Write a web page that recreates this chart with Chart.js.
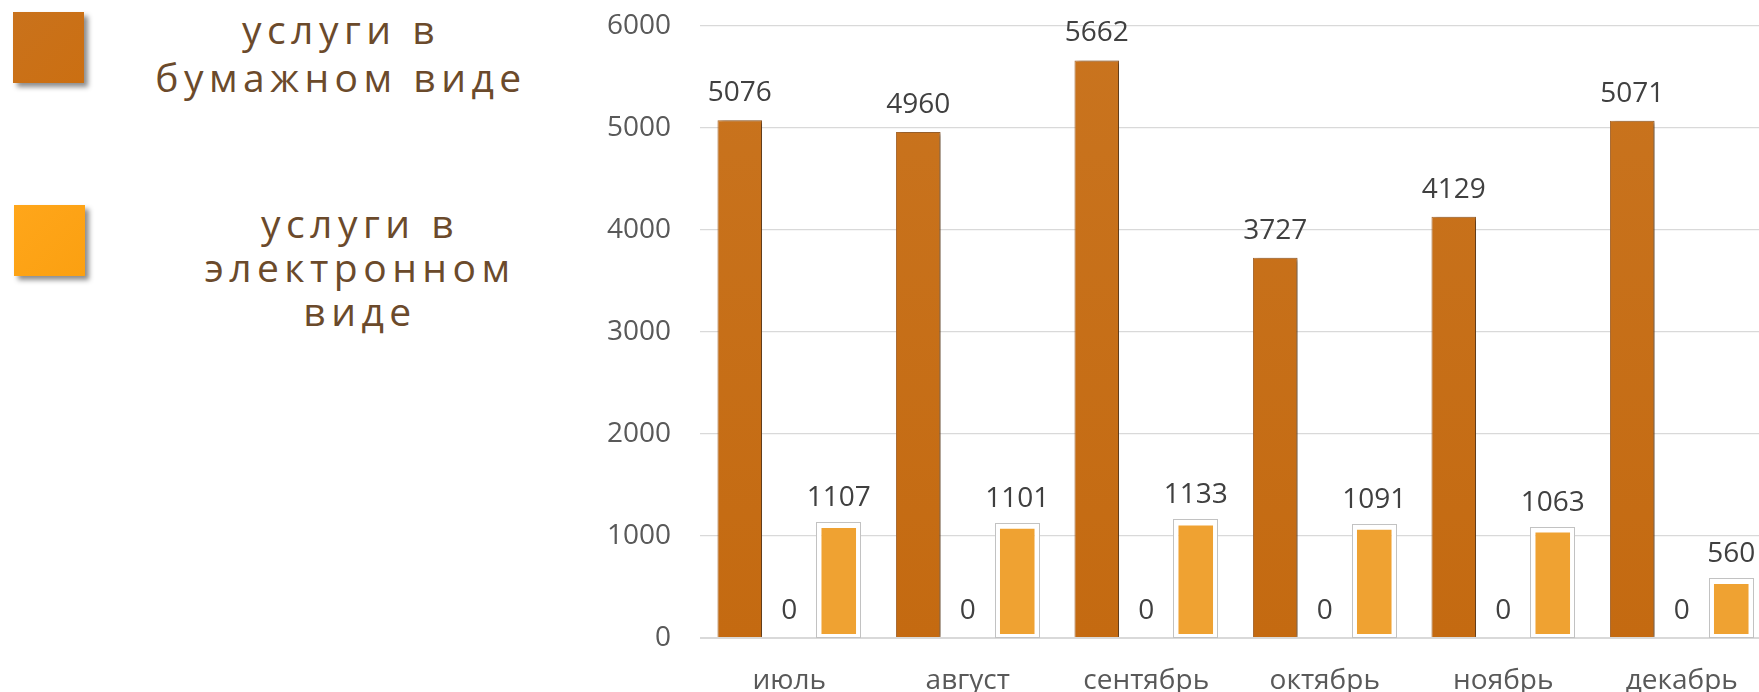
<!DOCTYPE html>
<html lang="ru">
<head>
    <meta charset="UTF-8">
    <title>Услуги в бумажном и электронном виде</title>
    <script src="https://cdn.jsdelivr.net/npm/chart.js"></script>
    <style>
        html, body {
            margin: 0;
            padding: 0;
            width: 1759px;
            height: 692px;
            overflow: hidden;
            background: #ffffff;
            font-family: "Open Sans", sans-serif;
        }
        .legend-box {
            position: absolute;
            width: 71px;
            height: 71px;
            box-shadow: 4px 4px 5px rgba(0,0,0,0.45);
        }
        .legend-text {
            position: absolute;
            text-align: center;
            color: #6b4a2b;
            font-size: 39px;
            letter-spacing: 5.5px;
            white-space: nowrap;
        }
        #chart-wrap {
            position: absolute;
            left: 560px;
            top: 0;
        }
    </style>
</head>
<body>
    <div class="legend-box" style="left:13px; top:12px; background:linear-gradient(135deg,#c9721c,#cb6f12);"></div>
    <div class="legend-text" id="legend-paper" style="left:141px; top:5px; width:400px; line-height:48px;"></div>
    <div class="legend-box" style="left:14px; top:205px; background:linear-gradient(135deg,#ffa61a,#fba011);"></div>
    <div class="legend-text" id="legend-electronic" style="left:160px; top:201px; width:400px; line-height:44px;"></div>

    <div id="chart-wrap">
        <canvas id="chart" width="1211" height="692" style="width:1211px; height:692px;"></canvas>
    </div>

    <script>
        const months = ['июль', 'август', 'сентябрь', 'октябрь', 'ноябрь', 'декабрь'];
        const paperServices = [5076, 4960, 5662, 3727, 4129, 5071];
        const zeroServices = [0, 0, 0, 0, 0, 0];
        const electronicServices = [1107, 1101, 1133, 1091, 1063, 560];
        const legendPaper = ['услуги в', 'бумажном виде'];
        const legendElectronic = ['услуги в', 'электронном', 'виде'];

        document.getElementById('legend-paper').innerHTML = legendPaper.join('<br>');
        document.getElementById('legend-electronic').innerHTML = legendElectronic.join('<br>');

        Chart.defaults.font.family = '"Open Sans", sans-serif';

        function paperFill(context) {
            const area = context.chart.chartArea;
            if (!area) return '#c7701a';
            const g = context.chart.ctx.createLinearGradient(0, area.top, 0, area.bottom);
            g.addColorStop(0, '#c9741f');
            g.addColorStop(1, '#c46a11');
            return g;
        }

        const barDecor = {
            id: 'barDecor',
            beforeDatasetDraw(chart, args) {
                if (args.index === 0) {
                    const c = chart.ctx;
                    c.save();
                    c.shadowColor = 'rgba(0,0,0,0.45)';
                    c.shadowOffsetX = 4;
                    c.shadowOffsetY = 1;
                    c.shadowBlur = 4;
                }
            },
            afterDatasetDraw(chart, args) {
                if (args.index === 0) chart.ctx.restore();
            },
            afterDatasetsDraw(chart) {
                const c = chart.ctx;
                // thin grey frame around the electronic bars
                c.save();
                c.strokeStyle = '#c2c2c2';
                c.lineWidth = 1;
                chart.getDatasetMeta(2).data.forEach(bar => {
                    const p = bar.getProps(['x', 'y', 'base', 'width'], true);
                    const left = Math.round(p.x - p.width / 2) + 0.5;
                    const top = Math.round(p.y) - 3 + 0.5;
                    c.strokeRect(left, top, Math.round(p.width) - 1, Math.round(p.base - p.y) + 3);
                });
                c.restore();

                // value labels
                c.save();
                c.font = '28px "Open Sans"';
                c.fillStyle = '#404040';
                c.textAlign = 'center';
                c.textBaseline = 'alphabetic';
                chart.data.datasets.forEach((ds, i) => {
                    chart.getDatasetMeta(i).data.forEach((bar, j) => {
                        c.fillText(String(ds.data[j]), bar.x, bar.y - 19);
                    });
                });
                c.restore();
            }
        };

        new Chart(document.getElementById('chart').getContext('2d'), {
            type: 'bar',
            data: {
                labels: months,
                datasets: [
                    {
                        label: 'услуги в бумажном виде',
                        data: paperServices,
                        backgroundColor: paperFill,
                        borderColor: '#a8692f',
                        borderWidth: 1,
                        borderSkipped: 'start'
                    },
                    {
                        label: 'нет данных',
                        data: zeroServices,
                        backgroundColor: 'rgba(0,0,0,0)',
                        borderWidth: 0
                    },
                    {
                        label: 'услуги в электронном виде',
                        data: electronicServices,
                        backgroundColor: '#efa232',
                        borderColor: '#ffffff',
                        borderWidth: { left: 5, right: 5, top: 3, bottom: 3 },
                        borderSkipped: false
                    }
                ]
            },
            options: {
                responsive: false,
                animation: false,
                categoryPercentage: 0.832,
                barPercentage: 0.9,
                layout: {
                    padding: { top: 26, right: 0, bottom: 0, left: 0 }
                },
                plugins: {
                    legend: { display: false },
                    tooltip: { enabled: false }
                },
                scales: {
                    x: {
                        grid: { display: false },
                        border: { display: false },
                        ticks: {
                            color: '#595959',
                            font: { size: 28 },
                            padding: 18,
                            maxRotation: 0,
                            autoSkip: false
                        },
                        afterFit(scale) { scale.height = 54; }
                    },
                    y: {
                        min: 0,
                        max: 6000,
                        border: { display: false },
                        grid: {
                            color: '#d9d9d9',
                            lineWidth: ctx => ctx.tick && ctx.tick.value === 0 ? 2 : 1.3,
                            drawTicks: false
                        },
                        ticks: {
                            stepSize: 1000,
                            color: '#595959',
                            font: { size: 28 },
                            padding: 29,
                            callback: v => String(v)
                        },
                        afterFit(scale) {
                            scale.width = 140;
                            scale.paddingTop = 0;
                            scale.paddingBottom = 0;
                        }
                    }
                }
            },
            plugins: [barDecor]
        });
    </script>
</body>
</html>
